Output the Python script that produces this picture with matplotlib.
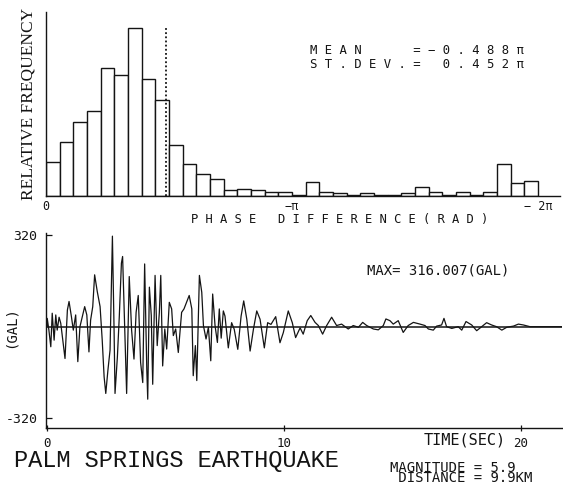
import numpy as np
import matplotlib
matplotlib.use("Agg")
import matplotlib.pyplot as plt

# ---------------- data ----------------
# relative frequency (%) of phase difference, 36 bins from 0 to -2*pi
phase_rel_freq = [3.0, 4.7, 6.5, 7.4, 11.2, 10.6, 14.7, 10.2, 8.4, 4.5,
                  2.8, 1.9, 1.5, 0.5, 0.65, 0.5, 0.35, 0.35, 0.13, 1.2,
                  0.35, 0.3, 0.1, 0.3, 0.1, 0.06, 0.3, 0.8, 0.35, 0.13,
                  0.35, 0.13, 0.35, 2.8, 1.15, 1.35]
phase_mean_pi = -0.488
phase_std_pi = 0.452

time_s = [0.00, 0.01, 0.08, 0.16, 0.22, 0.30, 0.37, 0.43, 0.51, 0.58,
          0.65, 0.76, 0.86, 0.93, 1.03, 1.11, 1.21, 1.30, 1.39, 1.49,
          1.59, 1.68, 1.77, 1.84, 1.93, 2.01, 2.12, 2.24, 2.33, 2.41,
          2.48, 2.57, 2.66, 2.76, 2.83, 2.87, 2.97, 3.05, 3.14, 3.19,
          3.28, 3.36, 3.47, 3.57, 3.67, 3.76, 3.85, 3.95, 4.04, 4.12,
          4.21, 4.25, 4.32, 4.40, 4.46, 4.56, 4.65, 4.74, 4.80, 4.88,
          4.97, 5.05, 5.16, 5.26, 5.33, 5.43, 5.54, 5.68, 5.78, 5.89,
          6.00, 6.11, 6.17, 6.26, 6.32, 6.43, 6.53, 6.60, 6.71, 6.81,
          6.91, 6.99, 7.09, 7.19, 7.27, 7.35, 7.44, 7.51, 7.65, 7.79,
          7.90, 8.05, 8.19, 8.30, 8.43, 8.57, 8.71, 8.85, 8.99, 9.17,
          9.31, 9.45, 9.65, 9.83, 9.97, 10.18, 10.35, 10.49, 10.68, 10.81,
          10.98, 11.13, 11.31, 11.45, 11.63, 11.80, 12.01, 12.22, 12.43, 12.71,
          12.92, 13.14, 13.32, 13.49, 13.77, 13.98, 14.19, 14.30, 14.47, 14.61,
          14.82, 15.03, 15.24, 15.46, 15.74, 15.95, 16.09, 16.30, 16.44, 16.65,
          16.75, 16.86, 17.08, 17.35, 17.50, 17.68, 17.92, 18.13, 18.34, 18.55,
          18.76, 18.97, 19.19, 19.40, 19.68, 19.89, 20.10, 20.38, 21.75]
acc_gal = [0, 29, -12, -70, 47, -47, 41, -12, 33, 12,
           -35, -111, 58, 88, 35, -12, 41, -122, 0, 35,
           70, 41, -88, 23, 70, 181, 123, 70, -47, -175,
           -233, -152, -82, 316, -12, -233, -105, 35, 222, 245,
           -12, -233, 175, -12, -113, 50, 109, -125, -195, 219,
           -148, -253, 138, 39, -201, 179, -66, 50, 179, -137,
           -8, -78, 85, 62, -31, -8, -90, 50, 62, 85,
           109, 62, -171, -66, -188, 179, 120, 4, -43, -2,
           -119, 114, 4, -55, 62, -40, 55, 37, -74, 14,
           -9, -79, 37, 90, 26, -85, -9, 55, 26, -74,
           14, 8, 35, -56, -21, 55, 14, -38, -4, -26,
           21, 39, 15, 4, -26, 4, 33, 4, 9, -8,
           4, -2, 15, 4, -8, -11, 4, 27, 21, 9,
           21, -20, 4, 15, 9, 4, -8, -12, 2, 6,
           29, 0, -6, 0, -12, 18, 6, -14, 0, 14,
           6, 0, -12, -2, 2, 9, 6, 0, 0]

time_ticks = [0, 10, 20]
time_tick_labels = ["0", "10", "20"]
acc_ticks = [320, -320]
acc_tick_labels = ["320", "-320"]
phase_ticks_pi = [0, -1, -2]
phase_tick_labels = ["0", "\u2212\u03c0", "\u2212\u20092\u03c0"]

# ---------------- figure ----------------
W, H = 563, 486
fig = plt.figure(figsize=(W / 100, H / 100), dpi=100)
fig.patch.set_facecolor("white")
INK = "#141414"
MONO = ["DejaVu Sans Mono", "DejaVu Sans"]


def fx(x):
    return x / W


def fy(y):
    return 1 - y / H


def spaced(s):
    return "\u2009".join(s)


# ---------- histogram ----------
ax1 = fig.add_axes([fx(46), fy(196), (560 - 46) / W, (196 - 12) / H])
nb = len(phase_rel_freq)
edges = np.linspace(0, -2 * np.pi, nb + 1)
ax1.bar(edges[:-1], phase_rel_freq, width=np.diff(edges), align="edge",
        facecolor="white", edgecolor=INK, linewidth=1.0)
ax1.set_xlim(0, -2 * np.pi * (560 - 46) / (538 - 46))
ax1.set_ylim(0, 16.1)
ax1.vlines(phase_mean_pi * np.pi, 0, 14.7, colors=INK, linestyles=(0, (1, 1.3)),
           linewidth=1.3)
for s in ["top", "right"]:
    ax1.spines[s].set_visible(False)
for s in ["left", "bottom"]:
    ax1.spines[s].set_linewidth(1.0)
    ax1.spines[s].set_color(INK)
ax1.set_yticks([])
ax1.set_xticks([v * np.pi for v in phase_ticks_pi])
ax1.set_xticklabels(phase_tick_labels, family=MONO, fontsize=8.5, color=INK)
ax1.tick_params(axis="x", length=0, pad=3)

fig.text(fx(29), fy(104), "RELATIVE FREQUENCY", rotation=90, ha="center",
         va="center", family="Liberation Serif", fontsize=12.5, color=INK)
fig.text(fx(340), fy(219), spaced("PHASE DIFFERENCE(RAD)"), ha="center",
         va="center", family=MONO, fontsize=8.7, color=INK)
fig.text(fx(310), fy(51), spaced("MEAN   =%.3f\u03c0" % phase_mean_pi).replace("-", "\u2212"),
         ha="left", va="center", family=MONO, fontsize=8.8, color=INK)
fig.text(fx(310), fy(64), spaced("ST.DEV.= %.3f\u03c0" % phase_std_pi),
         ha="left", va="center", family=MONO, fontsize=8.8, color=INK)

# ---------- acceleration time history ----------
ax2 = fig.add_axes([fx(46), fy(428), (562 - 46) / W, (428 - 233) / H])
ax2.plot(time_s, acc_gal, color=INK, linewidth=0.9)
ax2.axhline(0, color=INK, linewidth=1.1)
ax2.set_xlim((46 - 47) / 23.7, (562 - 47) / 23.7)
ax2.set_ylim(-353.6, 327)
for s in ["top", "right"]:
    ax2.spines[s].set_visible(False)
for s in ["left", "bottom"]:
    ax2.spines[s].set_linewidth(1.0)
    ax2.spines[s].set_color(INK)
ax2.set_xticks(time_ticks)
ax2.set_xticklabels(time_tick_labels, family=MONO, fontsize=9, color=INK)
ax2.tick_params(axis="x", direction="inout", length=5, width=0.9, pad=4, color=INK)
ax2.set_yticks(acc_ticks)
ax2.set_yticklabels(acc_tick_labels, family=MONO, fontsize=9.5, color=INK)
ax2.tick_params(axis="y", direction="in", length=4, width=0.9, pad=6, color=INK)

fig.text(fx(11), fy(327), "(GAL)", rotation=90, ha="center", va="center",
         family=MONO, fontsize=10, color=INK)
fig.text(fx(367), fy(271), "MAX= 316.007(GAL)", ha="left", va="center",
         family=MONO, fontsize=10, color=INK)
fig.text(fx(506), fy(440), "TIME(SEC)", ha="right", va="center",
         family=MONO, fontsize=11, color=INK)
fig.text(fx(14), fy(460), "PALM SPRINGS EARTHQUAKE", ha="left", va="center",
         family="Liberation Mono", fontsize=17, color=INK)
fig.text(fx(390), fy(473), "MAGNITUDE = 5.9\n DISTANCE = 9.9KM", ha="left",
         va="center", family=MONO, fontsize=10, linespacing=0.68, color=INK)

fig.savefig("out.png", dpi=100, facecolor="white")
